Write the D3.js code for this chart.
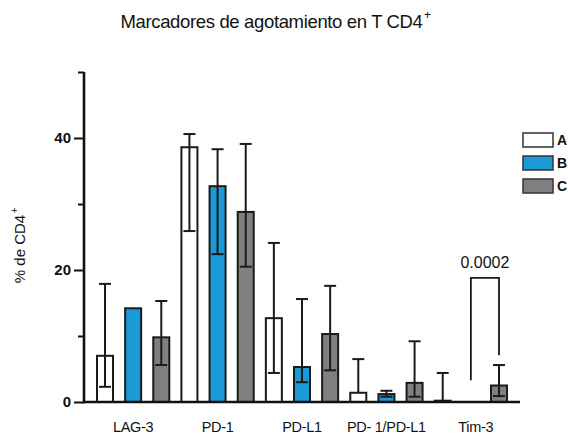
<!DOCTYPE html>
<html>
<head>
<meta charset="utf-8">
<script src="https://cdn.jsdelivr.net/npm/d3@7"></script>
<style>
  html, body { margin: 0; padding: 0; background: #fff; }
  svg { display: block; font-family: "Liberation Sans", Arial, sans-serif; }
</style>
</head>
<body>
<svg id="chart" width="568" height="439"></svg>
<script>
const categories = ["LAG-3", "PD-1", "PD-L1", "PD- 1/PD-L1", "Tim-3"];
const seriesNames = ["A", "B", "C"];
const seriesColors = ["#ffffff", "#1b9ad8", "#808080"];
const valuesA = [7.0, 38.6, 12.7, 1.4, 0.2];
const valuesB = [14.2, 32.7, 5.3, 1.2, 0];
const valuesC = [9.8, 28.8, 10.3, 2.9, 2.5];
const errHighA = [17.9, 40.6, 24.1, 6.5, 4.4];
const errLowA = [2.3, 25.9, 4.4, 1.4, 0.2];
const errHighB = [null, 38.3, 15.6, 1.7, null];
const errLowB = [null, 22.4, 3.0, 0.8, null];
const errHighC = [15.3, 39.1, 17.6, 9.2, 5.6];
const errLowC = [5.6, 20.5, 4.8, 0.8, 0.9];
const majorTicks = [0, 20, 40];
const minorTicks = [10, 30, 50];
const sigCategory = "Tim-3";
const sigFrom = "B", sigTo = "C";
const sigTop = 18.8, sigLeftBottom = 3.3, sigRightBottom = 7.1;
const sigLabel = "0.0002";

const values = [valuesA, valuesB, valuesC];
const errHigh = [errHighA, errHighB, errHighC];
const errLow = [errLowA, errLowB, errLowC];

const svg = d3.select("#chart");
const x0 = 84, x1 = 520, yTop = 72, yBottom = 402;

const keys = [];
categories.forEach(c => seriesNames.forEach(s => keys.push(c + "|" + s)));
const x = d3.scaleBand().domain(keys).range([x0, x1]).paddingInner(0.36).paddingOuter(0.426);
const y = d3.scaleLinear().domain([0, 50]).range([yBottom, yTop]);

const data = [];
categories.forEach((c, ci) => seriesNames.forEach((s, si) => {
  data.push({cat: c, ser: s, si, v: values[si][ci], hi: errHigh[si][ci], lo: errLow[si][ci]});
}));

// title
const title = svg.append("text")
  .attr("x", 0).attr("y", 28)
  .attr("font-size", 18.5).attr("fill", "#111")
  .style("letter-spacing", "-0.35px")
  .text("Marcadores de agotamiento en T CD4");
const tw = title.node().getComputedTextLength();
const tx = 275 - (tw + 7) / 2;
title.attr("x", tx);
svg.append("text").attr("x", tx + tw + 1.5).attr("y", 19).attr("font-size", 12).attr("fill", "#111").text("+");

// bars
svg.append("g").selectAll("rect").data(data).enter().append("rect")
  .attr("x", d => x(d.cat + "|" + d.ser) + 1)
  .attr("width", x.bandwidth() - 2)
  .attr("y", d => y(d.v))
  .attr("height", d => Math.max(0, y(0) - y(d.v)))
  .attr("fill", d => seriesColors[d.si])
  .attr("stroke", "#1a1a1a")
  .attr("stroke-width", d => d.v > 0 ? 2 : 0);

// error bars
const eb = svg.append("g").attr("stroke", "#1a1a1a").attr("stroke-width", 2).attr("fill", "none");
data.filter(d => d.hi != null).forEach(d => {
  const cx = x(d.cat + "|" + d.ser) + x.bandwidth() / 2;
  eb.append("line").attr("x1", cx).attr("x2", cx).attr("y1", y(d.hi)).attr("y2", y(d.lo));
  eb.append("line").attr("x1", cx - 6).attr("x2", cx + 6).attr("y1", y(d.hi)).attr("y2", y(d.hi));
  if (d.lo < d.v) eb.append("line").attr("x1", cx - 6).attr("x2", cx + 6).attr("y1", y(d.lo)).attr("y2", y(d.lo));
});

// axes
const yAxisMajor = svg.append("g").attr("transform", `translate(${x0},0)`)
  .call(d3.axisLeft(y).tickValues(majorTicks).tickSize(10).tickSizeOuter(0).tickPadding(3).tickFormat(d3.format("d")));
yAxisMajor.select(".domain").remove();
yAxisMajor.selectAll("line").attr("stroke", "#111").attr("stroke-width", 2);
yAxisMajor.selectAll("text").attr("font-size", 15).attr("font-weight", "bold").attr("fill", "#111")
  .attr("font-family", "'Liberation Sans', Arial, sans-serif");
const yAxisMinor = svg.append("g").attr("transform", `translate(${x0},0)`)
  .call(d3.axisLeft(y).tickValues(minorTicks).tickSize(6).tickSizeOuter(0).tickFormat(""));
yAxisMinor.select(".domain").remove();
yAxisMinor.selectAll("line").attr("stroke", "#111").attr("stroke-width", 2);

svg.append("line").attr("x1", x0).attr("x2", x0).attr("y1", y(50)).attr("y2", y(0) + 1.2)
  .attr("stroke", "#111").attr("stroke-width", 2.6);
svg.append("line").attr("x1", x0 - 1.3).attr("x2", x1).attr("y1", y(0)).attr("y2", y(0))
  .attr("stroke", "#111").attr("stroke-width", 2.6);

// x labels
const xc = c => (x(c + "|A") + x(c + "|C") + x.bandwidth()) / 2;
svg.append("g").selectAll("text").data(categories).enter().append("text")
  .attr("x", d => xc(d) + (d === "Tim-3" ? 5 : 0)).attr("y", 432).attr("text-anchor", "middle")
  .attr("font-size", 14.5).attr("fill", "#111").style("letter-spacing", "-0.3px").text(d => d);

// y label
const ylab = svg.append("text").attr("transform", "translate(25,249) rotate(-90)")
  .attr("text-anchor", "middle").attr("font-size", 15).attr("fill", "#111").text("% de CD4");
const yw = ylab.node().getComputedTextLength();
svg.append("text").attr("transform", `translate(18,${249 - yw / 2 - 1.5}) rotate(-90)`)
  .attr("text-anchor", "start").attr("font-size", 10).attr("fill", "#111").text("+");

// significance bracket
const bx1 = x(sigCategory + "|" + sigFrom) + x.bandwidth() / 2;
const bx2 = x(sigCategory + "|" + sigTo) + x.bandwidth() / 2;
svg.append("path")
  .attr("d", `M${bx1},${y(sigLeftBottom)}V${y(sigTop)}H${bx2}V${y(sigRightBottom)}`)
  .attr("fill", "none").attr("stroke", "#1a1a1a").attr("stroke-width", 1.8);
svg.append("text").attr("x", (bx1 + bx2) / 2).attr("y", y(sigTop) - 10)
  .attr("text-anchor", "middle").attr("font-size", 16).attr("fill", "#111").text(sigLabel);

// legend
const lg = svg.append("g");
seriesNames.forEach((s, i) => {
  lg.append("rect").attr("x", 523).attr("y", 133 + i * 23).attr("width", 30).attr("height", 14)
    .attr("fill", seriesColors[i]).attr("stroke", "#333").attr("stroke-width", 1.5);
  lg.append("text").attr("x", 557).attr("y", 145 + i * 23).attr("font-size", 14)
    .attr("font-weight", "bold").attr("fill", "#111").text(s);
});
</script>
</body>
</html>
